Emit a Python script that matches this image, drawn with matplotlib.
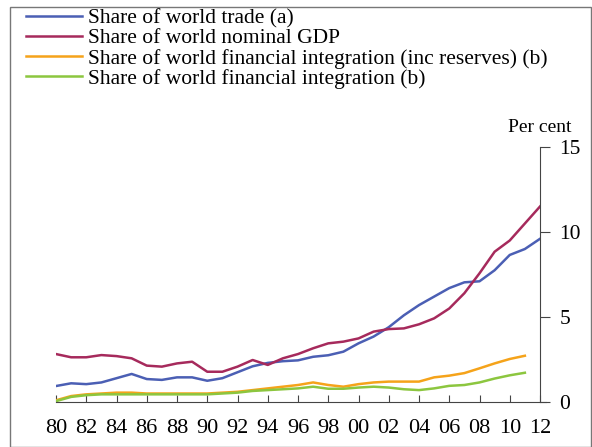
import matplotlib
matplotlib.use("Agg")
import matplotlib.pyplot as plt
from matplotlib.patches import Rectangle

years = list(range(1980, 2013))
trade = [0.94, 1.1, 1.05, 1.15, 1.4, 1.65, 1.35, 1.3, 1.45, 1.45, 1.25, 1.4, 1.75, 2.1, 2.3, 2.4,
         2.45, 2.66, 2.75, 2.96, 3.45, 3.85, 4.4, 5.1, 5.7, 6.2, 6.7, 7.04, 7.1, 7.75, 8.65, 9.0, 9.6]
gdp = [2.82, 2.63, 2.63, 2.76, 2.7, 2.57, 2.14, 2.08, 2.27, 2.37, 1.78, 1.78, 2.08, 2.47, 2.18, 2.57,
       2.82, 3.16, 3.45, 3.55, 3.74, 4.14, 4.29, 4.33, 4.57, 4.92, 5.5, 6.4, 7.57, 8.84, 9.5, 10.5, 11.5]
years_fin = list(range(1980, 2012))
fin_res = [0.1, 0.35, 0.45, 0.5, 0.55, 0.55, 0.5, 0.5, 0.5, 0.5, 0.5, 0.55, 0.6, 0.7, 0.8, 0.9,
           1.0, 1.15, 1.0, 0.9, 1.05, 1.15, 1.2, 1.2, 1.2, 1.45, 1.55, 1.7, 1.98, 2.27, 2.53, 2.72]
fin = [0.05, 0.3, 0.4, 0.45, 0.45, 0.45, 0.45, 0.45, 0.45, 0.45, 0.45, 0.5, 0.55, 0.65, 0.7, 0.75,
       0.8, 0.9, 0.78, 0.78, 0.85, 0.9, 0.85, 0.75, 0.7, 0.8, 0.95, 1.0, 1.15, 1.38, 1.57, 1.72]
labels = ["Share of world trade (a)", "Share of world nominal GDP",
          "Share of world financial integration (inc reserves) (b)",
          "Share of world financial integration (b)"]
colors = ["#4b5fb4", "#a62a5c", "#f5a31a", "#8cc63f"]
xtick_years = list(range(1980, 2013, 2))
xtick_labels = [f"{y % 100:02d}" for y in xtick_years]
yticks = [0, 5, 10, 15]

plt.rcParams['font.family'] = ['Liberation Serif', 'DejaVu Serif']
W, H = 592, 447
fig = plt.figure(figsize=(W / 100, H / 100), dpi=100)
fig.patches.append(Rectangle((10 / W, 0), (W - 11) / W, (H - 7) / H, transform=fig.transFigure,
                             fill=False, edgecolor="#777777", linewidth=1.0))
ax = fig.add_axes([56 / W, 1 - 402 / H, (540 - 56) / W, (402 - 147) / H])

lw = 1.8
l1, = ax.plot(years, trade, color=colors[0], lw=lw)
l2, = ax.plot(years, gdp, color=colors[1], lw=lw)
l3, = ax.plot(years_fin, fin_res, color=colors[2], lw=lw)
l4, = ax.plot(years_fin, fin, color=colors[3], lw=lw)

ax.set_xlim(1980, 2012)
ax.set_ylim(0, 15)
ax.spines['left'].set_visible(False)
ax.spines['top'].set_visible(False)
ax.spines['right'].set_color("#444444")
ax.spines['bottom'].set_color("#444444")
ax.spines['bottom'].set_bounds(1980, 2012.4)
ax.yaxis.tick_right()
ax.set_yticks(yticks)
ax.set_yticklabels([str(v) for v in yticks], fontsize=15.5)
ax.tick_params(axis='y', direction='out', length=7, color="#444444", pad=7)
ax.set_xticks(xtick_years)
ax.set_xticklabels(xtick_labels, fontsize=16)
ax.tick_params(axis='x', direction='in', length=5, color="#444444", pad=12)
fig.text(572 / W, 1 - 128 / H, "Per cent", ha='right', va='center', fontsize=14)
ax.patch.set_alpha(0)
ax.spines['bottom'].set_clip_on(False)

fig.legend([l1, l2, l3, l4], labels, loc='upper left', bbox_to_anchor=(26 / W, 1 - 8 / H),
           frameon=False, fontsize=15.5, handlelength=2.6, handletextpad=0.3,
           labelspacing=0.01, borderaxespad=0, borderpad=0)

fig.savefig("out.png", dpi=100)
